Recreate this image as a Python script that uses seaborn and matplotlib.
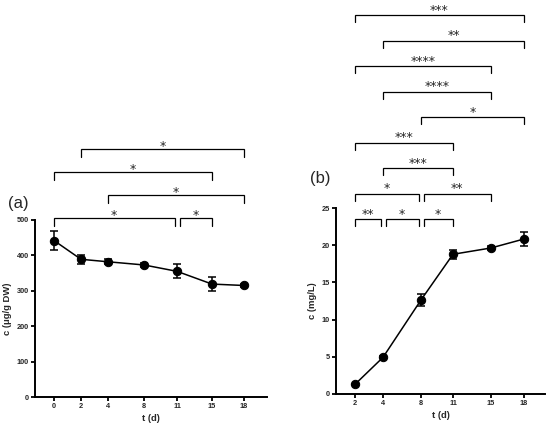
import numpy as np
import pandas as pd
import matplotlib
matplotlib.use("Agg")
import matplotlib.pyplot as plt
import seaborn as sns

# ---------------- data ----------------
t_a = [0, 2, 4, 8, 11, 15, 18]
c_a = [442, 389, 382, 373, 355, 319, 315]
err_a = [28, 12, 7, 6, 20, 19, 4]

t_b = [2, 4, 8, 11, 15, 18]
c_b = [1.26, 4.9, 12.63, 18.79, 19.64, 20.85]
err_b = [0.1, 0.15, 0.85, 0.6, 0.3, 0.9]

# significance comparisons (t1, t2, stars)
sig_a = [(0, 11, "*"), (11, 15, "*"), (4, 18, "*"), (0, 15, "*"), (2, 18, "*")]
sig_b = [(2, 4, "**"), (4, 8, "*"), (8, 11, "*"), (2, 8, "*"), (8, 15, "**"),
         (4, 11, "***"), (2, 11, "***"), (8, 18, "*"), (4, 15, "****"),
         (2, 15, "****"), (4, 18, "**"), (2, 18, "***")]

# ---------------- layout ----------------
pos_a = [0, 27, 54, 90, 123, 158, 190]      # uneven x spacing of panel (a)
pos_b = [0, 28, 66, 98, 136, 169]           # uneven x spacing of panel (b)
lev_a = [0, 0, 1, 2, 3]
lev_b = [0, 0, 0, 1, 1, 2, 3, 4, 5, 6, 7, 8]

sns.set_theme(style="ticks")
plt.rcParams["font.family"] = ["Liberation Sans", "DejaVu Sans"]

fig = plt.figure(figsize=(5.5, 4.3), dpi=100)
ax_a = fig.add_axes([35 / 550, 33 / 430, 232 / 550, 177 / 430])
ax_b = fig.add_axes([336 / 550, 36.3 / 430, 209 / 550, 185.5 / 430])


def draw_panel(ax, t, c, err, pos, xlim, ylim, yticks, ylabel):
    xmap = dict(zip(t, pos))
    df = pd.DataFrame({"x": [xmap[v] for v in t], "c": c, "err": err})
    ax.errorbar(df["x"], df["c"], yerr=df["err"], fmt="none", ecolor="black",
                elinewidth=1.1, capsize=3, capthick=1.1, zorder=2)
    sns.lineplot(data=df, x="x", y="c", ax=ax, color="black", linewidth=1.1,
                 marker="o", markersize=6, markeredgecolor="black",
                 markerfacecolor="black", zorder=3)
    ax.set_xlim(*xlim)
    ax.set_ylim(*ylim)
    ax.set_xticks(pos)
    ax.set_xticklabels([str(v) for v in t])
    ax.set_yticks(yticks)
    ax.set_yticklabels([str(v) for v in yticks])
    for lab in ax.get_xticklabels() + ax.get_yticklabels():
        lab.set_fontweight("bold")
        lab.set_fontsize(5.3)
    ax.tick_params(width=1.3, length=3, pad=1.5, color="black")
    ax.set_xlabel("t (d)", fontsize=6.8, fontweight="bold", labelpad=3)
    ax.set_ylabel(ylabel, fontsize=6.8, fontweight="bold", labelpad=3)
    for s in ["left", "bottom"]:
        ax.spines[s].set_linewidth(1.4)
        ax.spines[s].set_color("black")
    sns.despine(ax=ax)
    return xmap


def draw_sig(ax, xmap, sig, lev, base, step, drop, shrink, txt_off):
    for i, (a, b, s) in enumerate(sig):
        x1, x2 = xmap[a], xmap[b]
        # shrink where another bracket at the same level shares the endpoint
        for j, (a2, b2, _) in enumerate(sig):
            if j != i and lev[j] == lev[i]:
                if b2 == a:
                    x1 += shrink
                if a2 == b:
                    x2 -= shrink
        y = base + lev[i] * step
        ax.plot([x1, x1, x2, x2], [y - drop, y, y, y - drop], color="black",
                lw=0.9, clip_on=False, solid_joinstyle="miter")
        ax.annotate(s, xy=((x1 + x2) / 2, y), xytext=(0, txt_off),
                    textcoords="offset points", ha="center", va="baseline",
                    fontsize=9, annotation_clip=False, family="DejaVu Sans")


xm_a = draw_panel(ax_a, t_a, c_a, err_a, pos_a, (-19, 213), (0, 500),
                  [0, 100, 200, 300, 400, 500], "c (μg/g DW)")
xm_b = draw_panel(ax_b, t_b, c_b, err_b, pos_b, (-19, 190), (0, 25),
                  [0, 5, 10, 15, 20, 25], "c (mg/L)")

draw_sig(ax_a, xm_a, sig_a, lev_a, base=505, step=65.3, drop=22, shrink=2.5, txt_off=-0.5)
draw_sig(ax_b, xm_b, sig_b, lev_b, base=23.54, step=3.43, drop=0.95, shrink=2.5, txt_off=1)

fig.text(18.5 / 550, 1 - 203.8 / 430, "(a)", fontsize=12, ha="center", va="center")
fig.text(320.5 / 550, 1 - 179 / 430, "(b)", fontsize=12, ha="center", va="center")

fig.savefig("out.png", dpi=100)
